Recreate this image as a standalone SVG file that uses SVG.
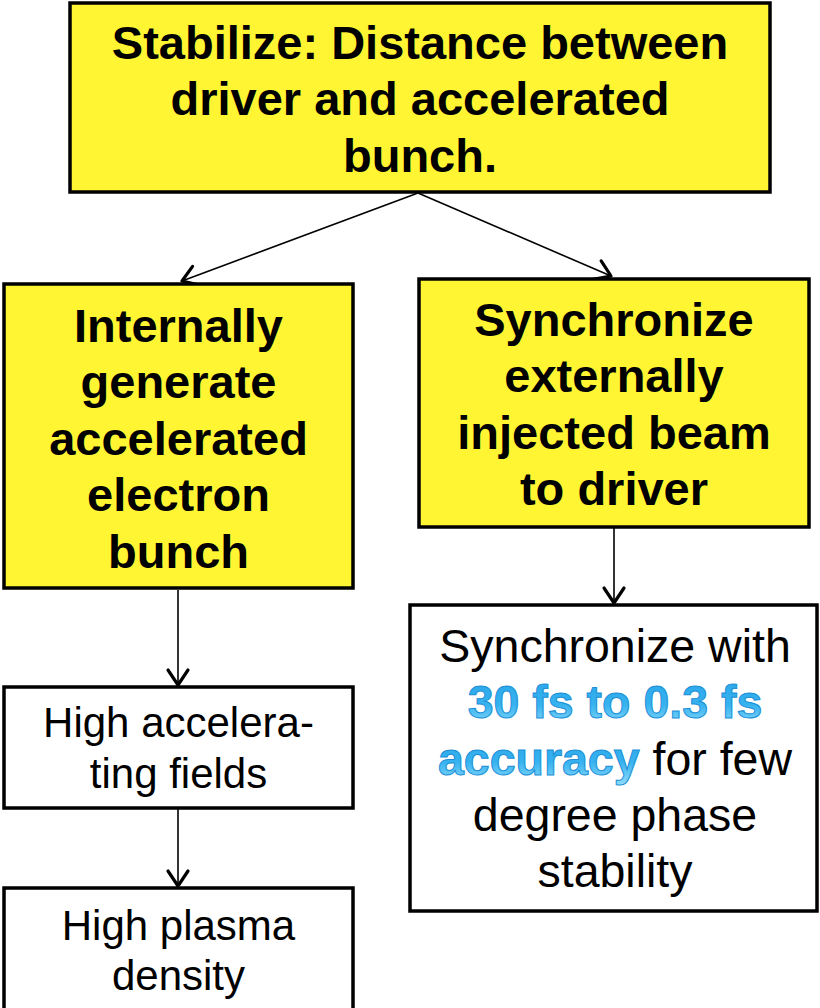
<svg xmlns="http://www.w3.org/2000/svg" width="820" height="1008" viewBox="0 0 820 1008">
  <defs>
    <style>
      .ybox { fill: #fff533; stroke: #000; stroke-width: 3.5; }
      .wbox { fill: #fff; stroke: #000; stroke-width: 3.5; }
      .bt { font-family: "Liberation Sans", Arial, sans-serif; font-weight: bold; font-size: 47px; fill: #000; text-anchor: middle; }
      .rt { font-family: "Liberation Sans", Arial, sans-serif; font-size: 42px; fill: #000; text-anchor: middle; }
      .rt2 { font-family: "Liberation Sans", Arial, sans-serif; font-size: 46.5px; fill: #000; text-anchor: middle; }
      .hl { font-weight: bold; fill: url(#blueGrad); stroke: #1b8fd6; stroke-width: 1; }
      .conn { stroke: #000; stroke-width: 1.6; fill: none; marker-end: url(#arrow); }
    </style>
    <linearGradient id="blueGrad" x1="0" y1="0" x2="0" y2="1">
      <stop offset="0" stop-color="#2aa6ea"/>
      <stop offset="0.55" stop-color="#36b2ef"/>
      <stop offset="1" stop-color="#8fdcfb"/>
    </linearGradient>
    <marker id="arrow" markerUnits="userSpaceOnUse" markerWidth="30" markerHeight="30" viewBox="-20 -15 25 30" refX="0" refY="0" orient="auto">
      <path d="M-15,-10 L0,0 L-15,10" fill="none" stroke="#000" stroke-width="3.2" stroke-linecap="round" stroke-linejoin="round"/>
    </marker>
  </defs>

  <g id="connectors">
    <line class="conn" x1="418" y1="193" x2="182" y2="281"/>
    <line class="conn" x1="418" y1="193" x2="611" y2="276"/>
    <line class="conn" x1="178" y1="590" x2="178" y2="685"/>
    <line class="conn" x1="178" y1="809" x2="178" y2="886"/>
    <line class="conn" x1="614" y1="528" x2="614" y2="603"/>
  </g>

  <g id="node-stabilize">
    <rect class="ybox" x="70" y="3" width="700" height="189"/>
    <text class="bt" x="420" y="59">Stabilize: Distance between</text>
    <text class="bt" x="420" y="115">driver and accelerated</text>
    <text class="bt" x="420" y="172">bunch.</text>
  </g>

  <g id="node-internal">
    <rect class="ybox" x="4" y="284" width="349" height="304"/>
    <text class="bt" x="178.5" y="342">Internally</text>
    <text class="bt" x="178.5" y="398">generate</text>
    <text class="bt" x="178.5" y="455">accelerated</text>
    <text class="bt" x="178.5" y="511">electron</text>
    <text class="bt" x="178.5" y="568">bunch</text>
  </g>

  <g id="node-synchronize">
    <rect class="ybox" x="419" y="279" width="390" height="248"/>
    <text class="bt" x="614" y="336">Synchronize</text>
    <text class="bt" x="614" y="392">externally</text>
    <text class="bt" x="614" y="449">injected beam</text>
    <text class="bt" x="614" y="505">to driver</text>
  </g>

  <g id="node-fields">
    <rect class="wbox" x="4" y="687" width="349" height="121"/>
    <text class="rt" x="178.5" y="737">High accelera-</text>
    <text class="rt" x="178.5" y="788">ting fields</text>
  </g>

  <g id="node-density">
    <rect class="wbox" x="4" y="888" width="349" height="130"/>
    <text class="rt" x="178.5" y="940">High plasma</text>
    <text class="rt" x="178.5" y="990">density</text>
  </g>

  <g id="node-accuracy">
    <rect class="wbox" x="410" y="605" width="407" height="306"/>
    <text class="rt2" x="615" y="662">Synchronize with</text>
    <text class="rt2 hl" x="615" y="718">30 fs to 0.3 fs</text>
    <text class="rt2" x="615" y="775"><tspan class="hl">accuracy</tspan> for few</text>
    <text class="rt2" x="615" y="831">degree phase</text>
    <text class="rt2" x="615" y="887">stability</text>
  </g>
</svg>
